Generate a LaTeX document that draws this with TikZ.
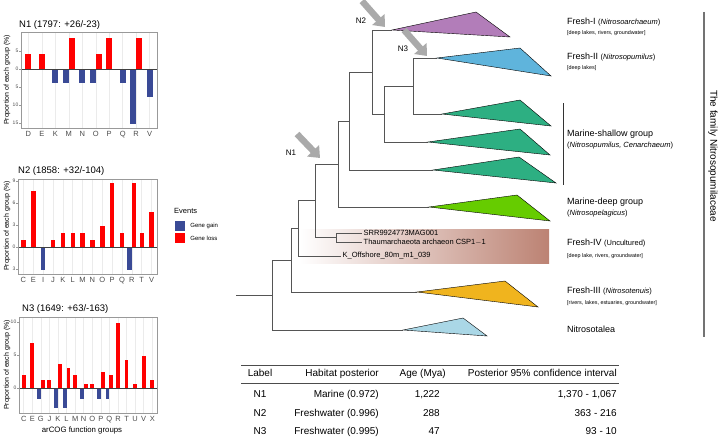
\documentclass[tikz,border=0pt]{standalone}
\usepackage{fontspec}
\setmainfont{Liberation Sans}
\usetikzlibrary{arrows.meta,positioning}

\definecolor{gaincol}{RGB}{58,74,150}
\definecolor{losscol}{RGB}{255,0,0}
\definecolor{treegray}{RGB}{85,85,85}
\definecolor{arrowgray}{RGB}{170,170,170}
\definecolor{freshone}{RGB}{178,125,185}
\definecolor{freshtwo}{RGB}{95,180,220}
\definecolor{marineshallow}{RGB}{45,175,130}
\definecolor{marinedeep}{RGB}{102,204,0}
\definecolor{freshthree}{RGB}{240,180,30}
\definecolor{talea}{RGB}{170,215,230}
\definecolor{bandcol}{RGB}{188,130,115}

\newcommand{\fsz}[1]{\fontsize{#1}{#1}\selectfont}

% left, right, top, bottom, zero, dx, scale, prefix, list
\newcommand{\cogbars}[9]{%
  \foreach \lab/\gn/\ls [count=\i from 0] in {#9}{%
    \pgfmathsetmacro{\cx}{#1+(0.55+\i)*#6}%
    \pgfmathsetmacro{\bw}{0.45*#6}%
    \draw[gridline] (\cx,#3) -- (\cx,#4);%
    \node[xtick] (#8-\lab) at (\cx,#4+5.5) {\lab};%
    \ifdim\gn pt>0pt
      \pgfmathsetmacro{\bx}{\ls>0 ? \cx-\bw : \cx-\bw/2}%
      \fill[gaincol] (\bx,#5) rectangle ++(\bw,\gn*#7);%
    \fi
    \ifdim\ls pt>0pt
      \pgfmathsetmacro{\rx}{\gn>0 ? \cx : \cx-\bw/2}%
      \fill[losscol] (\rx,#5) rectangle ++(\bw,-\ls*#7);%
    \fi
  }%
  \draw[zeroline] (#1,#5) -- (#2,#5);%
  \draw[frame] (#1,#3) rectangle (#2,#4);%
}
% left, zero, scale, prefix, values
\newcommand{\cogticks}[5]{%
  \foreach \v [count=\k] in {#5}{%
    \pgfmathsetmacro{\ty}{#2-(\v)*#3}%
    \pgfmathtruncatemacro{\tl}{abs(\v)}%
    \draw[tickmark] (#1-2,\ty) -- (#1,\ty);%
    \node[ytick] (#4-y\k) at (#1-2,\ty) {\tl};%
  }%
}

\begin{document}
\begin{tikzpicture}[x=1pt,y=-1pt,
  branch/.style={draw=treegray,line width=0.8pt},
  clade/.style={draw=black,line width=0.4pt},
  pointer/.style={draw=arrowgray,line width=6.5pt,-{Triangle[length=10pt,width=16pt]}},
  gridline/.style={draw=black!8,line width=0.5pt},
  frame/.style={draw=black!40,line width=0.6pt},
  zeroline/.style={draw=black!75,line width=0.9pt},
  tickmark/.style={draw=black!40,line width=0.5pt},
  xtick/.style={font=\fsz{7.5},text=black!70,inner sep=0pt,text height=5.4pt,text depth=0pt},
  ytick/.style={font=\fsz{5},text=black!70,anchor=east,inner sep=0.5pt},
  charttitle/.style={font=\fsz{9.5},anchor=west,inner sep=0pt},
  axtitle/.style={font=\fsz{7},inner sep=0pt},
  legkey/.style={minimum size=10pt,inner sep=0pt},
  legtext/.style={font=\fsz{6},inner sep=0pt},
  leafname/.style={font=\fsz{7.5},anchor=west,inner sep=1.5pt},
  cladename/.style={font=\fsz{9},anchor=west,inner sep=0pt},
  cladenote/.style={font=\fsz{5.4},anchor=west,inner sep=0pt},
  nodelabel/.style={font=\fsz{8},inner sep=0pt},
  tabtext/.style={font=\fsz{10},inner sep=0pt,text height=7.2pt,text depth=2pt},
  tabrule/.style={draw=black!70,line width=0.8pt}]
\useasboundingbox (0,0) rectangle (720,444);

% gain / loss charts
\node[charttitle] (title-n1) at (19,25) {N1 (1797: +26/-23)};
\cogbars{21}{157}{32}{128}{69}{13.47}{3.6}{n1}{D/0/4.3,E/0/4.3,K/3.8/0,M/3.8/8.7,N/3.8/0,O/3.8/4.3,P/0/8.7,Q/3.8/0,R/15.4/8.7,V/7.7/0}
\cogticks{21}{69}{3.6}{n1}{5,0,-5,-10,-15}
\node[axtitle,rotate=90] (ytitle-n1) at (7,80) {Proportion of each group (\%)};

\node[charttitle] (title-n2) at (18,171) {N2 (1858: +32/-104)};
\cogbars{18}{157}{179}{274}{247}{9.86}{7.33}{n2}{C/0/1.0,E/0/7.7,I/3.1/0,J/0/1.0,K/0/1.9,L/0/1.9,M/0/1.9,N/0/1.0,O/0/2.9,P/0/8.7,Q/0/1.9,R/3.1/8.7,T/0/1.9,V/0/4.8}
\cogticks{18}{247}{7.33}{n2}{9,6,3,0,-3}
\node[axtitle,rotate=90] (ytitle-n2) at (7,226) {Proportion of each group (\%)};

\node[charttitle] (title-n3) at (22,309) {N3 (1649: +63/-163)};
\cogbars{19}{157}{317}{413}{388}{8.57}{6.6}{n3}{C/0/1.9,E/0/6.8,G/1.6/1.2,J/0/1.2,K/3.1/3.7,L/3.1/3.1,M/0/1.9,N/1.6/0.6,O/0/0.6,P/1.6/2.5,Q/1.6/1.9,R/0/9.8,T/0/4.3,U/0/0.6,V/0/4.9,X/0/1.2}
\cogticks{19}{388}{6.6}{n3}{10,5,0}
\node[axtitle,rotate=90] (ytitle-n3) at (7,365) {Proportion of each group (\%)};
\node[font=\fsz{7.8},inner sep=0pt] (xtitle) at (82,430) {arCOG function groups};

% legend
\node[font=\fsz{7.5},anchor=west,inner sep=0pt] (legtitle) at (174,211) {Events};
\node[legkey,fill=gaincol] (keygain) at (180,226) {};
\node[legkey,fill=losscol] (keyloss) at (180,238) {};
\node[legtext,right=5pt of keygain] (gaintext) {Gene gain};
\node[legtext,right=5pt of keyloss] (losstext) {Gene loss};

% tree
\shade[left color=white,right color=bandcol] (300,229) rectangle (549,263);

\coordinate (root) at (236,295);
\coordinate (r) at (272,295);
\coordinate (a) at (291,260);
\coordinate (b) at (298,228.4);
\coordinate (n1) at (315,200.75);
\coordinate (f) at (336,237.5);
\coordinate (e) at (338,164);
\coordinate (d) at (349,121);
\coordinate (n2) at (372,72);
\coordinate (c) at (384,114);
\coordinate (n3) at (413,86);

\coordinate (fI) at (392,30);
\coordinate (fII) at (437,58);
\coordinate (ms1) at (442,114);
\coordinate (ms2) at (428,142);
\coordinate (ms3) at (433,170);
\coordinate (md) at (429,207);
\coordinate (fIII) at (417,292);
\coordinate (tal) at (403,330);

\node[leafname] (srr) at (362,233) {SRR9924773MAG001};
\node[leafname] (thaum) at (362,242) {Thaumarchaeota archaeon CSP1$-$1};
\node[leafname] (koff) at (341,256) {K\_Offshore\_80m\_m1\_039};

\draw[branch] (root) -- (r);
\foreach \p/\c in {r/a,r/tal,a/b,a/fIII,b/n1,b/koff.west,n1/e,n1/f,f/srr.west,f/thaum.west,
                   e/d,e/md,d/n2,d/ms3,n2/fI,n2/c,c/n3,c/ms2,n3/fII,n3/ms1}
  \draw[branch] (\p) |- (\c);

\foreach \t/\col/\ax/\ay/\bx/\by in {fI/freshone/84/-18/118/7,fII/freshtwo/83/-10/114/18,
    ms1/marineshallow/78/-14/109/12,ms2/marineshallow/92/-13/122/13,ms3/marineshallow/86/-13/123/13,
    md/marinedeep/88/-12/121/14,fIII/freshthree/88/-11/121/15,tal/talea/60/-12/84/6}
  \draw[clade,fill=\col] (\t) -- ([shift={(\ax,\ay)}]\t) -- ([shift={(\bx,\by)}]\t) -- cycle;

% pointers to dated nodes
\coordinate (n1tip) at (320,158);
\coordinate (n1tail) at (297,134);
\coordinate (n2tip) at (385,27);
\coordinate (n2tail) at (362,1);
\coordinate (n3tip) at (427,56);
\coordinate (n3tail) at (404,30);
\draw[pointer] (n1tail) -- (n1tip);
\draw[pointer] (n2tail) -- (n2tip);
\draw[pointer] (n3tail) -- (n3tip);
\node[nodelabel] (n1lab) at (291,153) {N1};
\node[nodelabel] (n2lab) at (361,21) {N2};
\node[nodelabel] (n3lab) at (403,49) {N3};

% clade names
\node[cladename] (name-fI) at (567,22) {Fresh-I {\fsz{7.5}(\textit{Nitrosoarchaeum})}};
\node[cladenote] (note-fI) at (567,33) {[deep lakes, rivers, groundwater]};
\node[cladename] (name-fII) at (567,57) {Fresh-II {\fsz{7.5}(\textit{Nitrosopumilus})}};
\node[cladenote] (note-fII) at (567,68) {[deep lakes]};
\node[cladename] (name-ms) at (567,134) {Marine-shallow group};
\node[cladename,font=\fsz{7.5}] (note-ms) at (567,146) {(\textit{Nitrosopumilus, Cenarchaeum})};
\node[cladename] (name-md) at (567,202) {Marine-deep group};
\node[cladename,font=\fsz{7.5}] (note-md) at (567,214) {(\textit{Nitrosopelagicus})};
\node[cladename] (name-fIV) at (567,243) {Fresh-IV {\fsz{7.5}(Uncultured)}};
\node[cladenote] (note-fIV) at (567,256) {[deep lake, rivers, groundwater]};
\node[cladename] (name-fIII) at (567,291) {Fresh-III {\fsz{7.5}(\textit{Nitrosotenuis})}};
\node[cladenote] (note-fIII) at (567,303) {[rivers, lakes, estuaries, groundwater]};
\node[cladename] (name-tal) at (567,329) {Nitrosotalea};
\draw[draw=black!80,line width=0.6pt] (563,103) -- (563,185);
\draw[draw=black!55,line width=1.2pt] (704,12) -- (704,337);
\node[font=\fsz{10},rotate=-90,inner sep=0pt] (family) at (713,156) {The family Nitrosopumilaceae};

% table
\draw[tabrule] (241,365) -- (619,365);
\draw[tabrule] (241,383) -- (619,383);
\node[tabtext] (h-label) at (260,374) {Label};
\node[tabtext,anchor=east] (h-hab) at (379,374) {Habitat posterior};
\node[tabtext,anchor=east] (h-age) at (446,374) {Age (Mya)};
\node[tabtext,anchor=east] (h-ci) at (617,374) {Posterior 95\% confidence interval};
\foreach \lab/\hab/\age/\ci [count=\i] in {N1/Marine (0.972)/{1,222}/{1,370 - 1,067},
    N2/Freshwater (0.996)/288/363 - 216, N3/Freshwater (0.995)/47/93 - 10}{
  \node[tabtext] (row\i-label) at (260,376.5+18.5*\i) {\lab};
  \node[tabtext,anchor=east] (row\i-hab) at (379,376.5+18.5*\i) {\hab};
  \node[tabtext,anchor=east] (row\i-age) at (440,376.5+18.5*\i) {\age};
  \node[tabtext,anchor=east] (row\i-ci) at (617,376.5+18.5*\i) {\ci};
}
\end{tikzpicture}
\end{document}
